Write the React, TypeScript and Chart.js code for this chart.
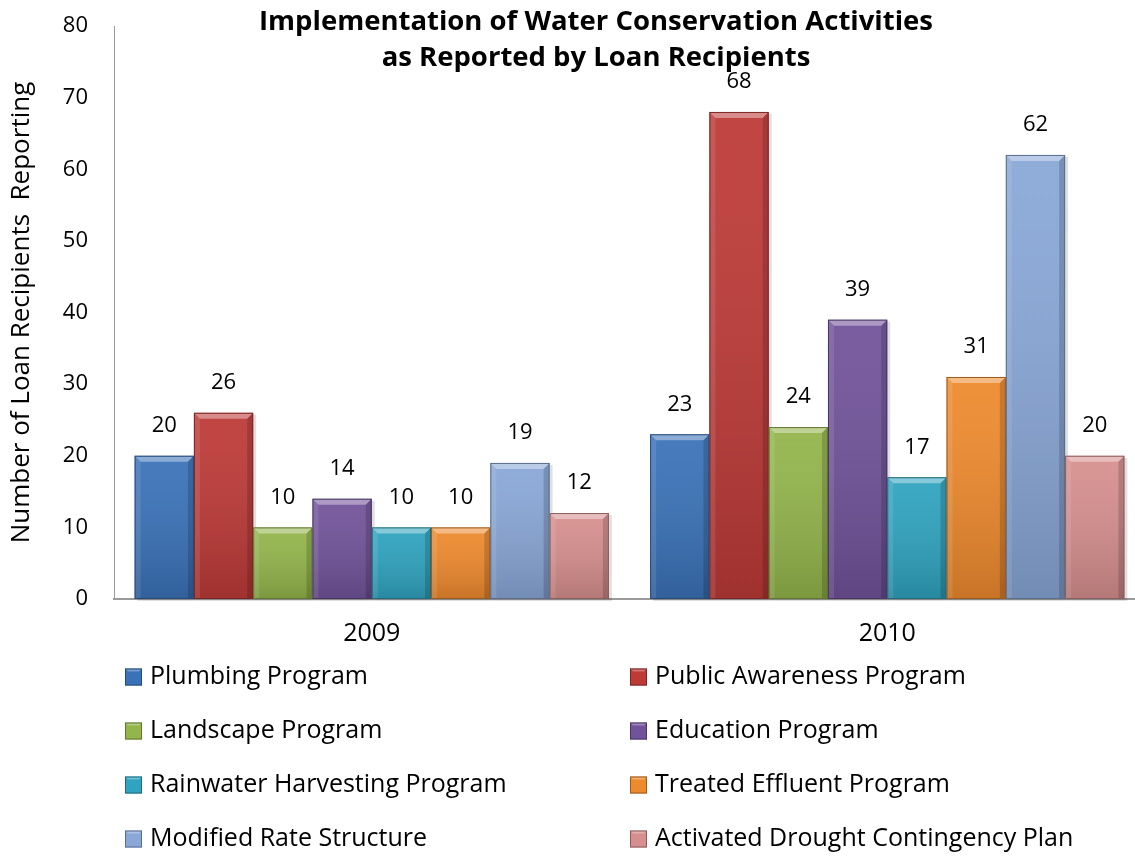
import React, { useEffect, useRef } from "react";
import { Chart, registerables } from "chart.js";

Chart.register(...registerables);

const categories = ["2009", "2010"];
const seriesNames = [
  "Plumbing Program",
  "Public Awareness Program",
  "Landscape Program",
  "Education Program",
  "Rainwater Harvesting Program",
  "Treated Effluent Program",
  "Modified Rate Structure",
  "Activated Drought Contingency Plan",
];
const plumbing = [20, 23];
const publicAwareness = [26, 68];
const landscape = [10, 24];
const education = [14, 39];
const rainwater = [10, 17];
const treatedEffluent = [10, 31];
const modifiedRate = [19, 62];
const droughtPlan = [12, 20];
const seriesValues = [plumbing, publicAwareness, landscape, education, rainwater, treatedEffluent, modifiedRate, droughtPlan];
const seriesColors = ["#3a72b8", "#bd3a37", "#93b54b", "#71539a", "#2fa3bf", "#ee8a2e", "#89a7d7", "#d68f8e"];
const yMin = 0;
const yMax = 80;
const yStep = 10;
const titleLines = ["Implementation of Water Conservation Activities", "as Reported by Loan Recipients"];
const yAxisTitle = "Number of Loan Recipients  Reporting";

const FONT = "'Open Sans', sans-serif";

function shade(hex: string, amt: number) {
  const n = parseInt(hex.slice(1), 16);
  let r = (n >> 16) & 255, g = (n >> 8) & 255, b = n & 255;
  const f = (c: number) => Math.max(0, Math.min(255, Math.round(amt >= 0 ? c + (255 - c) * amt : c * (1 + amt))));
  return `rgb(${f(r)},${f(g)},${f(b)})`;
}

const bevelPlugin = {
  id: "bevel",
  beforeDatasetsDraw(chart: any) {
    const ctx = chart.ctx;
    ctx.save();
    chart.data.datasets.forEach((_d: any, i: number) => {
      chart.getDatasetMeta(i).data.forEach((bar: any) => {
        const left = bar.x - bar.width / 2;
        const top = bar.y;
        const h = bar.base - bar.y;
        ctx.fillStyle = "rgba(0,0,0,0.12)";
        ctx.fillRect(left + 3, top + 2, bar.width, h);
      });
    });
    ctx.restore();
  },
  afterDatasetsDraw(chart: any) {
    const ctx = chart.ctx;
    ctx.save();
    chart.data.datasets.forEach((ds: any, i: number) => {
      chart.getDatasetMeta(i).data.forEach((bar: any, j: number) => {
        const l = bar.x - bar.width / 2;
        const r = bar.x + bar.width / 2;
        const t = bar.y;
        const bt = bar.base;
        const b = 6;
        const g = ctx.createLinearGradient(0, t, 0, bt);
        g.addColorStop(0, "rgba(255,255,255,0.06)");
        g.addColorStop(1, "rgba(0,0,0,0.16)");
        ctx.fillStyle = g;
        ctx.fillRect(l, t, r - l, bt - t);
        ctx.fillStyle = "rgba(255,255,255,0.38)";
        ctx.beginPath();
        ctx.moveTo(l, t);
        ctx.lineTo(r, t);
        ctx.lineTo(r - b, t + b);
        ctx.lineTo(l + b, t + b);
        ctx.closePath();
        ctx.fill();
        ctx.fillStyle = "rgba(255,255,255,0.10)";
        ctx.beginPath();
        ctx.moveTo(l, t);
        ctx.lineTo(l + b, t + b);
        ctx.lineTo(l + b, bt);
        ctx.lineTo(l, bt);
        ctx.closePath();
        ctx.fill();
        ctx.fillStyle = "rgba(0,0,0,0.16)";
        ctx.beginPath();
        ctx.moveTo(r, t);
        ctx.lineTo(r - b, t + b);
        ctx.lineTo(r - b, bt);
        ctx.lineTo(r, bt);
        ctx.closePath();
        ctx.fill();
        ctx.strokeStyle = shade(ds.backgroundColor, -0.35);
        ctx.lineWidth = 1;
        ctx.strokeRect(l + 0.5, t + 0.5, r - l - 1, bt - t - 1);
        ctx.fillStyle = "#000";
        ctx.font = `22px ${FONT}`;
        ctx.textAlign = "center";
        ctx.textBaseline = "middle";
        ctx.fillText(String(ds.data[j]), bar.x, t - 30);
      });
    });
    ctx.restore();
  },
};

const overlayPlugin = {
  id: "overlay",
  afterDraw(chart: any) {
    const ctx = chart.ctx;
    ctx.save();
    ctx.fillStyle = "#000";
    ctx.font = `bold 27.5px ${FONT}`;
    ctx.textAlign = "center";
    ctx.textBaseline = "middle";
    ctx.fillText(titleLines[0], 596, 22);
    ctx.fillText(titleLines[1], 596, 58);
    const colX = [125, 630];
    const rowY = [677, 731, 785, 839];
    ctx.textAlign = "left";
    ctx.font = `25px ${FONT}`;
    seriesNames.forEach((name, i) => {
      const x = colX[i % 2];
      const y = rowY[Math.floor(i / 2)];
      const c = seriesColors[i];
      const s = 17;
      ctx.fillStyle = c;
      ctx.fillRect(x, y - s / 2, s, s);
      ctx.fillStyle = "rgba(255,255,255,0.3)";
      ctx.beginPath();
      ctx.moveTo(x, y - s / 2);
      ctx.lineTo(x + s, y - s / 2);
      ctx.lineTo(x + s - 3, y - s / 2 + 3);
      ctx.lineTo(x + 3, y - s / 2 + 3);
      ctx.closePath();
      ctx.fill();
      ctx.strokeStyle = shade(c, -0.35);
      ctx.lineWidth = 1;
      ctx.strokeRect(x + 0.5, y - s / 2 + 0.5, s - 1, s - 1);
      ctx.fillStyle = "#000";
      ctx.fillText(name, x + 25, y);
    });
    ctx.restore();
  },
};

export default function App() {
  const ref = useRef<HTMLCanvasElement | null>(null);
  useEffect(() => {
    if (!ref.current) return;
    const chart = new Chart(ref.current, {
      type: "bar",
      data: {
        labels: categories,
        datasets: seriesNames.map((name, i) => ({
          label: name,
          data: seriesValues[i],
          backgroundColor: seriesColors[i],
          borderWidth: 0,
          categoryPercentage: 0.92,
          barPercentage: 1,
        })),
      },
      options: {
        responsive: false,
        animation: false,
        devicePixelRatio: 1,
        layout: { padding: { top: 26, left: 0, right: 5, bottom: 0 } },
        plugins: {
          legend: { display: false },
          title: { display: false },
          tooltip: { enabled: false },
        },
        scales: {
          x: {
            grid: { display: false, drawTicks: false },
            border: { display: true, color: "#9a9a9a", width: 2 },
            ticks: { color: "#000", font: { family: FONT, size: 25 }, padding: 20 },
            afterFit: (s: any) => { s.height = 261; s.paddingLeft = 0; s.paddingRight = 0; },
          },
          y: {
            min: yMin,
            max: yMax,
            grid: { display: false, drawTicks: false },
            border: { display: true, color: "#9a9a9a", width: 1 },
            ticks: { stepSize: yStep, color: "#000", font: { family: FONT, size: 22 }, padding: 26 },
            title: {
              display: true,
              text: yAxisTitle,
              color: "#000",
              font: { family: FONT, size: 26 },
              padding: { top: 6, bottom: 0 },
            },
            afterFit: (s: any) => { s.width = 114; s.paddingTop = 0; s.paddingBottom = 0; },
          },
        },
      },
      plugins: [bevelPlugin, overlayPlugin],
    });
    return () => chart.destroy();
  }, []);
  return (
    <div style={{ position: "absolute", left: 0, top: 0, width: 1135, height: 860, overflow: "hidden", background: "#fff" }}>
      <canvas ref={ref} width={1150} height={860} style={{ display: "block" }} />
    </div>
  );
}
